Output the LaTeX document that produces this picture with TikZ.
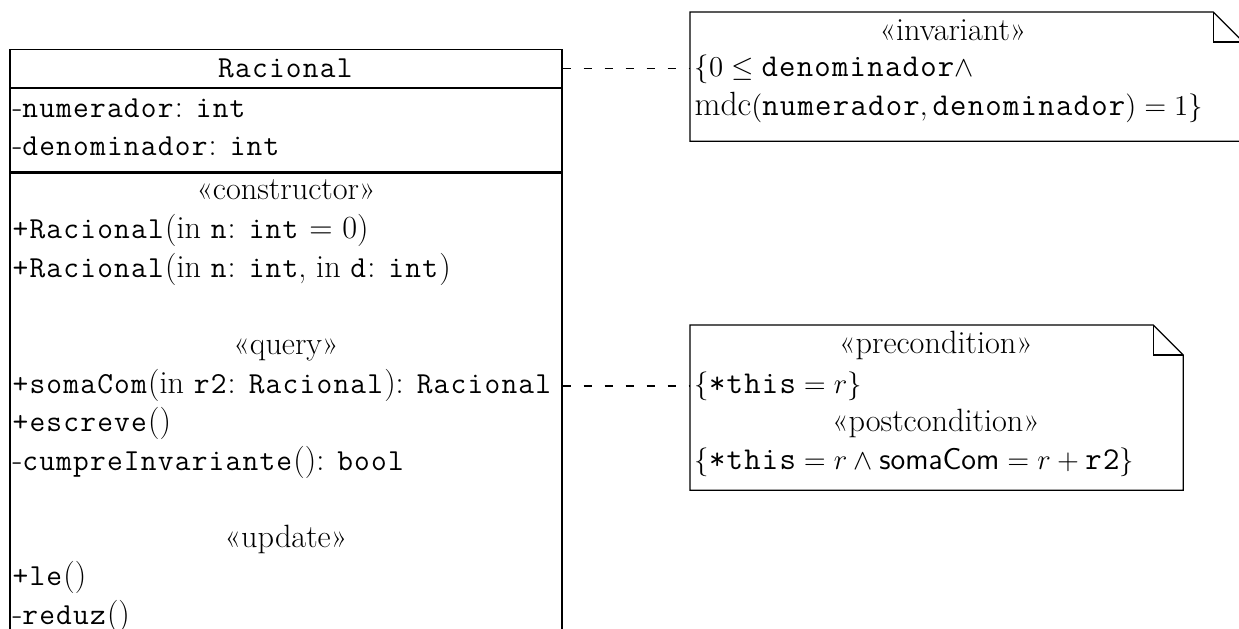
\documentclass[tikz,border=0pt]{standalone}
\usepackage{fontspec}
\setmainfont{Latin Modern Roman}[Scale=1.12]
\setmonofont{Latin Modern Mono}[Scale=1.06, LetterSpace=4]
\usetikzlibrary{positioning,calc}
\tikzset{
    compart/.style={
        draw,
        minimum width=276pt,
        inner sep=0pt,
        anchor=north
    },
    member/.style={anchor=west, inner sep=0pt, text height=10pt, text depth=3pt},
    stereo/.style={anchor=center, inner sep=0pt, text height=10pt, text depth=3pt},
    notetext/.style={anchor=west, inner sep=0pt, font=\fontsize{15pt}{19pt}\selectfont},
    notebox/.style={anchor=north west, inner sep=0pt},
    link/.style={dash pattern=on 4pt off 6.5pt}
}
\newcommand{\mono}[1]{\texttt{#1}}
\newcommand{\dogear}[1]{%
    \draw (#1.north west) -- ([xshift=-15pt]#1.north east)
        -- ([yshift=-15pt]#1.north east) -- (#1.south east)
        -- (#1.south west) -- cycle;
    \draw ([xshift=-15pt]#1.north east) |- ([yshift=-15pt]#1.north east);}

\begin{document}
\begin{tikzpicture}[x=0.5pt, y=-0.5pt, line width=0.6pt,
        font=\fontsize{14.4pt}{19.35pt}\selectfont]
    \clip (0,0) rectangle (1239,628);
    % classe Racional
    \node[compart, minimum height=19pt] (hdr) at (286,49) {\mono{Racional}};
    \node[compart, below=0pt of hdr, minimum height=41.5pt] (attrs) {};
    \node[compart, below=0pt of attrs, minimum height=240pt] (ops) {};
    \node[member] (numer) at (12,110) {-\mono{numerador}: \mono{int}};
    \node[member] (denom) at (12,148) {-\mono{denominador}: \mono{int}};
    \node[stereo] (cons) at (286,192) {«constructor»};
    \node[member] (ctor1) at (12,231) {\mono{+Racional}(in \mono{n}: \mono{int} = 0)};
    \node[member] (ctor2) at (12,270) {\mono{+Racional}(in \mono{n}: \mono{int}, in \mono{d}: \mono{int})};
    \node[stereo] (query) at (286,347) {«query»};
    \node[member] (soma) at (12,386) {\mono{+somaCom}(in \mono{r2}: \mono{Racional}): \mono{Racional}};
    \node[member] (escr) at (12,424) {\mono{+escreve}()};
    \node[member] (cumpre) at (12,463) {-\mono{cumpreInvariante}(): \mono{bool}};
    \node[stereo] (upd) at (286,540) {«update»};
    \node[member] (le) at (12,578) {\mono{+le}()};
    \node[member] (reduz) at (12,617) {-\mono{reduz}()};
    % notas
    \node[notebox, minimum width=276pt, minimum height=64pt] (inv) at (690,12) {};
    \dogear{inv}
    \node[stereo] (invst) at (953,33) {«invariant»};
    \node[notetext] (inv1) at (694,69) {$\{0 \leq \texttt{denominador} \wedge$};
    \node[notetext] (inv2) at (694,107) {$\mathrm{mdc}(\texttt{numerador}, \texttt{denominador}) = 1\}$};
    \node[notebox, minimum width=246pt, minimum height=82pt] (pre) at (690,325) {};
    \dogear{pre}
    \node[stereo] (prest) at (936,346) {«precondition»};
    \node[notetext] (pre1) at (694,386) {$\{\texttt{*this} = r\}$};
    \node[stereo] (postst) at (936,424) {«postcondition»};
    \node[notetext] (post1) at (694,462) {$\{\texttt{*this} = r \wedge \textsf{somaCom} = r + \texttt{r2}\}$};
    % ligacoes
    \draw[link] (hdr.east) -- (hdr.east -| inv.west);
    \draw[link] (soma.east -| ops.east) -- (soma.east -| pre.west);
\end{tikzpicture}
\end{document}
